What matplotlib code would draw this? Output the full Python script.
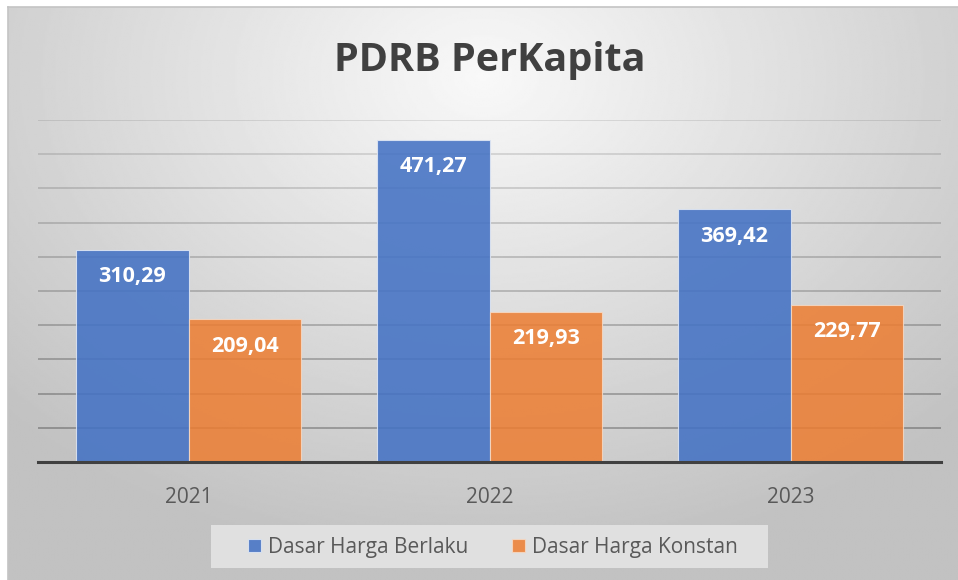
"""PDRB per kapita bar chart, Excel-style."""

import numpy as np
import matplotlib

matplotlib.use("Agg")
from matplotlib import pyplot as plt
from matplotlib.patches import Rectangle

years = ["2021", "2022", "2023"]
berlaku = [310.29, 471.27, 369.42]
konstan = [209.04, 219.93, 229.77]
series_names = ["Dasar Harga Berlaku", "Dasar Harga Konstan"]
title = "PDRB PerKapita"

BLUE = "#4472C4"
ORANGE = "#ED7D31"
TEXT = "#595959"

plt.rcParams["font.family"] = ["Open Sans", "DejaVu Sans"]


def fmt(v):
    return f"{v:.2f}".replace(".", ",")


def main() -> None:
    W, H = 958, 580
    fig = plt.figure(figsize=(W / 100, H / 100), dpi=100)

    # radial grey background of the chart area
    bg = fig.add_axes([8 / W, 0, 1 - 8 / W, 1 - 7 / H])
    yy, xx = np.mgrid[0:1:300j, 0:1:500j]
    r = np.sqrt(((xx - 0.5) * 1.1) ** 2 + ((yy - 0.12) * 0.9) ** 2)
    shade = np.clip(0.975 - 0.28 * r, 0.76, 1.0)
    bg.imshow(shade, cmap="gray", vmin=0, vmax=1, aspect="auto",
              extent=(0, 1, 1, 0), interpolation="bilinear")
    bg.set_xlim(0, 1)
    bg.set_ylim(1, 0)
    for side in ("top", "left"):
        bg.spines[side].set_color("#c4c4c4")
        bg.spines[side].set_linewidth(1.2)
    for side in ("bottom", "right"):
        bg.spines[side].set_visible(False)
    bg.set_xticks([])
    bg.set_yticks([])

    ax = fig.add_axes([38 / W, (H - 462) / H, (941 - 38) / W, (462 - 120) / H])
    ax.patch.set_alpha(0)
    x = np.arange(len(years))
    w = 0.375
    b1 = ax.bar(x - w / 2, berlaku, w, color=BLUE, alpha=0.88,
                edgecolor="#dfe6f3", linewidth=0.8, zorder=3, label=series_names[0])
    b2 = ax.bar(x + w / 2, konstan, w, color=ORANGE, alpha=0.85,
                edgecolor="#f6d9c4", linewidth=0.8, zorder=3, label=series_names[1])

    for bars, vals in ((b1, berlaku), (b2, konstan)):
        for rect, v in zip(bars, vals):
            ax.annotate(fmt(v), (rect.get_x() + rect.get_width() / 2, v),
                        xytext=(0, -19.5), textcoords="offset points",
                        ha="center", va="center", color="white",
                        fontsize=15.5, fontweight="bold", zorder=4)

    ax.set_xlim(-0.5, 2.5)
    ax.set_ylim(0, 500)
    ax.set_yticks(np.arange(0, 501, 50))
    ax.set_yticklabels([])
    ax.tick_params(axis="y", length=0)
    ax.yaxis.grid(True, color="black", linewidth=1.4, zorder=1)
    ax.set_axisbelow(True)
    for i, ln in enumerate(ax.get_ygridlines()):
        ln.set_alpha(0.28 - 0.018 * i)

    ax.set_xticks(x)
    ax.set_xticklabels(years, fontsize=15, color=TEXT)
    ax.tick_params(axis="x", length=0, pad=18)
    for side in ("top", "left", "right"):
        ax.spines[side].set_visible(False)
    ax.spines["bottom"].set_color("#404040")
    ax.spines["bottom"].set_linewidth(2.2)
    ax.spines["bottom"].set_zorder(5)

    fig.text(490 / W, 1 - 60 / H, title, ha="center", va="center",
             fontsize=28.5, fontweight="bold", color="#404040")

    # legend box
    fig.patches.append(Rectangle((211 / W, 1 - 568 / H), (768 - 211) / W, 43 / H,
                                 transform=fig.transFigure, facecolor="#e4e4e4",
                                 edgecolor="none", alpha=0.9, zorder=0))
    leg = fig.legend(handles=[b1, b2], loc="center", bbox_to_anchor=(493 / W, 1 - 547 / H),
                     ncol=2, frameon=False, fontsize=15, handlelength=0.6, handleheight=0.6,
                     handletextpad=0.35, columnspacing=2.1, borderpad=0.0)
    for t in leg.get_texts():
        t.set_color(TEXT)

    fig.savefig("out.png", dpi=100)
    plt.close(fig)


if __name__ == "__main__":
    main()
